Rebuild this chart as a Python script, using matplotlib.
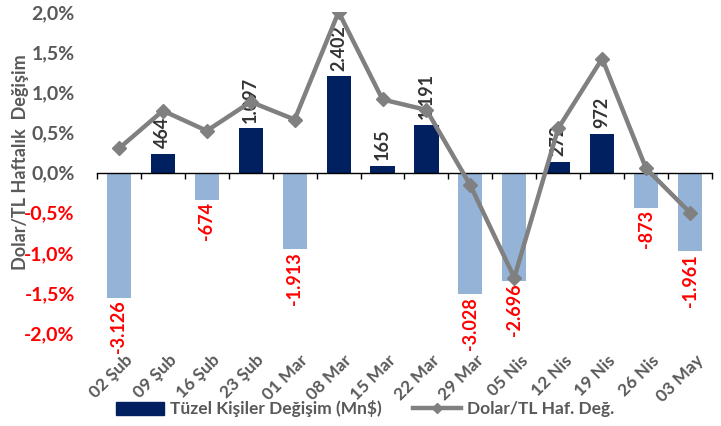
import matplotlib
matplotlib.use("Agg")
import matplotlib.pyplot as plt
import matplotlib.transforms as mtransforms
from matplotlib.lines import Line2D
from matplotlib.patches import Patch
import numpy as np

plt.rcParams['font.family'] = ['Lato', 'DejaVu Sans']
plt.rcParams['font.weight'] = 'bold'

categories = ["02 Şub", "09 Şub", "16 Şub", "23 Şub", "01 Mar", "08 Mar", "15 Mar",
              "22 Mar", "29 Mar", "05 Nis", "12 Nis", "19 Nis", "26 Nis", "03 May"]
tuzel = [-3126, 464, -674, 1097, -1913, 2402, 165, 1191, -3028, -2696, 272, 972, -873, -1961]
dolar_tl = [0.30, 0.77, 0.52, 0.88, 0.66, 2.00, 0.91, 0.78, -0.16, -1.31, 0.55, 1.42, 0.05, -0.50]
yticks = [-2.0, -1.5, -1.0, -0.5, 0.0, 0.5, 1.0, 1.5, 2.0]

NAVY = "#002060"
LIGHT = "#95B3D7"
GREY = "#808080"
TXT = "#595959"
RED = "#FF0000"

fig = plt.figure(figsize=(7.21, 4.26), dpi=100)
ax = fig.add_axes([0.1345, 0.2183, 0.853, 0.7535])
ax2 = ax.twinx()

x = np.arange(len(categories))

# bars on hidden secondary axis
colors = [NAVY if v >= 0 else LIGHT for v in tuzel]
ax2.bar(x, tuzel, width=0.55, color=colors, zorder=2)
ax2.set_ylim(-4000, 4000)
ax2.set_yticks([])
for s in ax2.spines.values():
    s.set_visible(False)

def fmt(v):
    s = f"{abs(v):,}".replace(",", ".")
    return ("-" if v < 0 else "") + s

for xi, v in zip(x, tuzel):
    if v >= 0:
        ax2.annotate(fmt(v), (xi, v), xytext=(0, 4), textcoords="offset points",
                     rotation=90, ha="center", va="bottom", color="#333333",
                     fontsize=13, fontweight="bold")
    else:
        ax2.annotate(fmt(v), (xi, v), xytext=(0, -2), textcoords="offset points",
                     rotation=90, ha="center", va="top", color=RED,
                     fontsize=13, fontweight="bold")

# line on primary axis, drawn above
ax.set_zorder(ax2.get_zorder() + 1)
ax.patch.set_visible(False)
ax.plot(x, dolar_tl, color=GREY, lw=3.2, marker="D", markersize=7.5,
        markerfacecolor=GREY, markeredgecolor=GREY, zorder=3)
ax.set_ylim(-2.0, 2.0)
ax.set_xlim(-0.5, len(categories) - 0.5)
ax2.set_xlim(-0.5, len(categories) - 0.5)

ax.set_yticks(yticks)
ax.set_yticklabels([f"{t:.1f}".replace(".", ",") + "%" for t in yticks])
for lbl, t in zip(ax.get_yticklabels(), yticks):
    lbl.set_color(RED if t < 0 else TXT)
    lbl.set_fontsize(14)
    lbl.set_fontweight("bold")
ax.tick_params(axis="y", length=0, pad=16)
ax.set_ylabel("Dolar/TL Haftalık  Değişim", color=TXT, fontsize=13,
              fontweight="bold")
ax.yaxis.set_label_coords(-0.110, 0.533)

for side in ["left", "right", "top"]:
    ax.spines[side].set_visible(False)
ax.spines["bottom"].set_position(("data", 0))
ax.spines["bottom"].set_color("black")
ax.spines["bottom"].set_linewidth(1.0)
ax.set_xticks(np.arange(len(categories) + 1) - 0.5)
ax.set_xticklabels([])
ax.tick_params(axis="x", direction="out", length=4, color="black", width=1)

trans = mtransforms.blended_transform_factory(ax.transData, ax.transAxes)
for xi, c in zip(x, categories):
    ax.text(xi + 0.12, -0.06, c, transform=trans, rotation=45, ha="right", va="top",
            rotation_mode="anchor", color=TXT, fontsize=12.5, fontweight="bold")

handles = [Patch(facecolor=NAVY, edgecolor=NAVY),
           Line2D([0], [0], color=GREY, lw=3.2, marker="D", markersize=5)]
fig.legend(handles, ["Tüzel Kişiler Değişim (Mn$)", "Dolar/TL Haf. Değ."],
           loc="center", bbox_to_anchor=(0.506, 0.04), ncol=2, frameon=False,
           prop={"size": 12.5, "weight": "bold"}, labelcolor=TXT,
           handlelength=2.8, handleheight=0.8, columnspacing=1.8, handletextpad=0.3)

fig.savefig("out.png", dpi=100)
